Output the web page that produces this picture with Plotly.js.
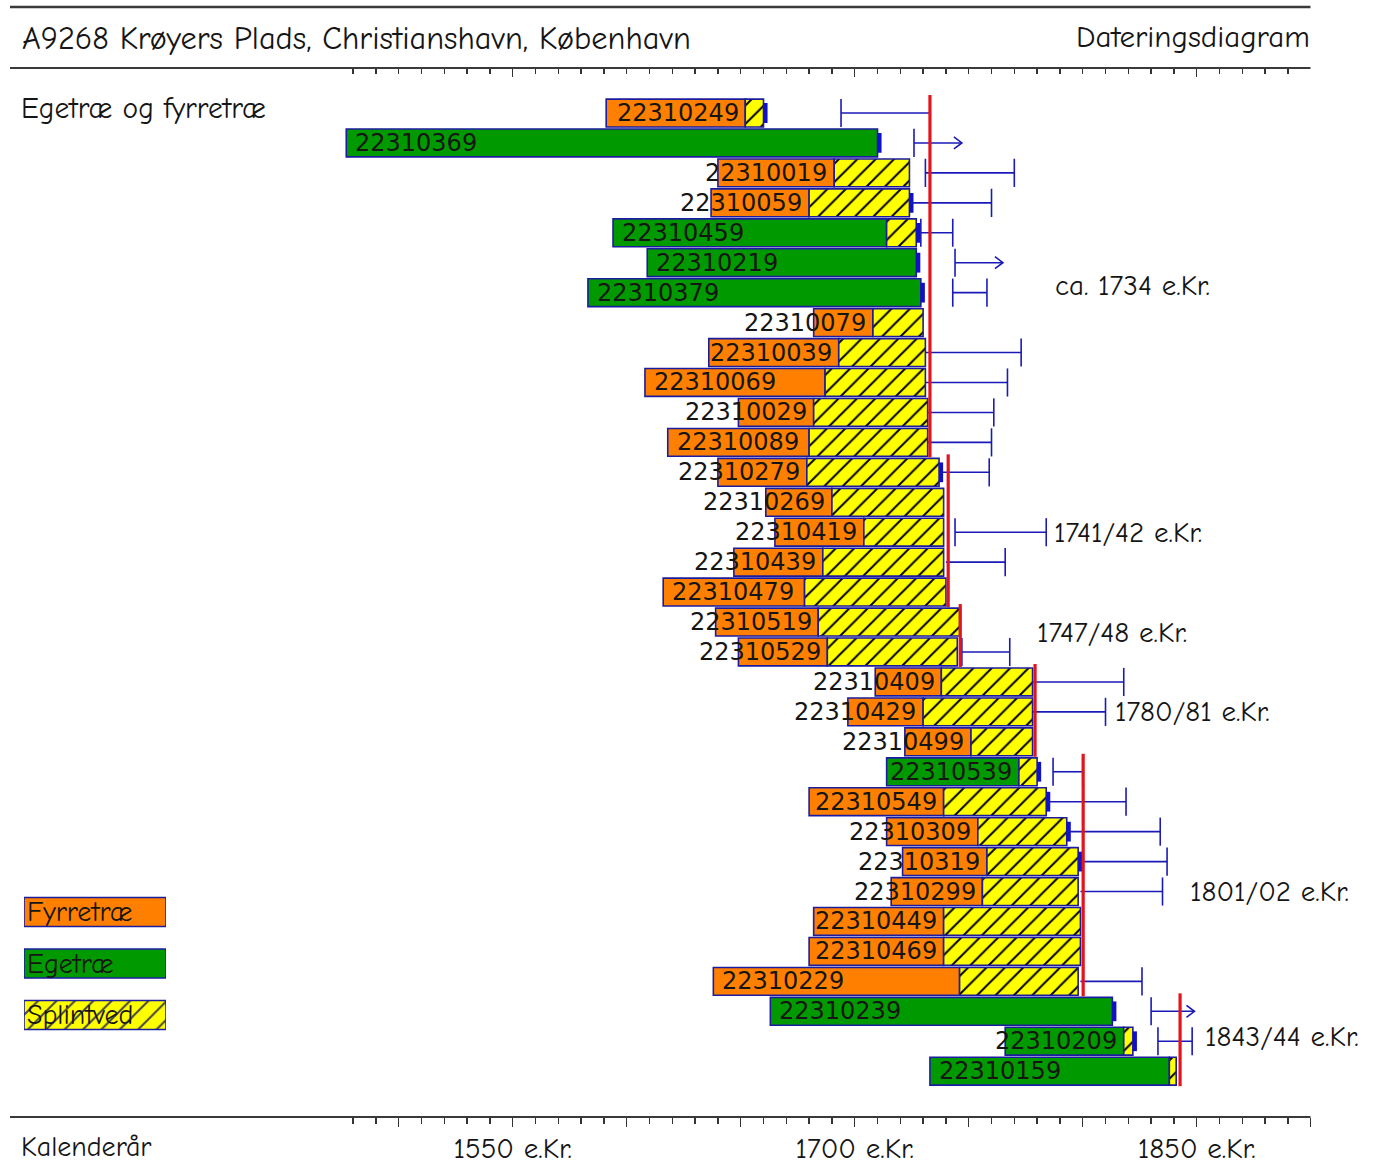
<!DOCTYPE html>
<html>
<head>
<meta charset="utf-8">
<script src="https://cdn.plot.ly/plotly-3.0.1.min.js"></script>
<style>
  html, body { margin: 0; padding: 0; background: #ffffff; }
  #chart { width: 1373px; height: 1173px; }
</style>
</head>
<body>
<div id="chart"></div>
<script>
// ---------------- DATA ----------------
const sampleIds = ['22310249','22310369','22310019','22310059','22310459','22310219','22310379',
  '22310079','22310039','22310069','22310029','22310089','22310279','22310269','22310419',
  '22310439','22310479','22310519','22310529','22310409','22310429','22310499','22310539',
  '22310549','22310309','22310319','22310299','22310449','22310469','22310229','22310239',
  '22310209','22310159'];
// F = fyrretræ (pine), E = egetræ (oak)
const species = ['F','E','F','F','E','E','E','F','F','F','F','F','F','F','F','F','F','F','F',
  'F','F','F','E','F','F','F','F','F','F','F','E','E','E'];
const startYear = [1591,1477,1640,1637,1594,1609,1583,1682,1636,1608,1649,1618,1640,1661,1665,
  1647,1616,1639,1649,1709,1697,1722,1714,1680,1714,1721,1716,1682,1680,1638,1663,1766,1733];
const heartEnd = [1652,1710,1691,1680,1714,1727,1729,1708,1693,1687,1682,1680,1679,1690,1704,
  1686,1678,1684,1688,1738,1730,1751,1772,1739,1754,1758,1756,1739,1739,1746,1813,1818,1838];
const sapEnd = [1660,1710,1724,1724,1727,1727,1729,1730,1731,1731,1732,1732,1737,1739,1739,
  1739,1740,1746,1745,1778,1778,1778,1780,1784,1793,1798,1798,1799,1799,1798,1813,1822,1841];
const waneyEdge = [1,1,0,1,1,1,1,0,0,0,0,0,1,0,0,0,0,0,0,0,0,0,1,1,1,1,0,0,0,0,1,1,0];
const fellFrom = [1694,1726,1731,1724,1729,1744,1743,null,1731,1731,1732,1732,1738,null,1744,
  1740,null,null,1747,1778,1778,null,1787,1785,1794,1798,1799,null,null,1799,1830,1833,null];
const fellTo = [1733,1747,1770,1760,1743,1765,1758,null,1773,1767,1761,1760,1759,null,1784,
  1766,null,null,1768,1818,1810,null,1800,1819,1834,1837,1835,null,null,1826,1849,1848,null];
const fellOpen = [0,1,0,0,0,1,0,0,0,0,0,0,0,0,0,0,0,0,0,0,0,0,0,0,0,0,0,0,0,0,1,0,0];

const groupDates = [1733, 1741, 1746.3, 1779.1, 1800.2, 1842.7];
const groupFirstRow = [0, 12, 17, 19, 22, 30];
const groupLastRow = [11, 16, 18, 21, 29, 32];
const groupLabels = ['ca. 1734 e.Kr.', '1741/42 e.Kr.', '1747/48 e.Kr.', '1780/81 e.Kr.',
  '1801/02 e.Kr.', '1843/44 e.Kr.'];

const legendNames = ['Fyrretræ', 'Egetræ', 'Splintved'];
const axisLabelYears = [1550, 1700, 1850];
const axisLabelText = ['1550 e.Kr.', '1700 e.Kr.', '1850 e.Kr.'];

const titleLeft = 'A9268 Krøyers Plads, Christianshavn, København';
const titleRight = 'Dateringsdiagram';
const subTitle = 'Egetræ og fyrretræ';
const axisName = 'Kalenderår';

// ---------------- STYLE / LAYOUT ----------------
const W = 1373, H = 1173;
const px = v => v / W;
const py = v => 1 - v / H;
const COL_PINE = '#ff8000', COL_OAK = '#009a00', COL_SAP = '#ffff00';
const COL_EDGE = '#1c1ca0', COL_ERR = '#1a1ab8', COL_RED = '#e3141c';
const TXT = '#151515';
const comic = '"Comic Sans MS", "Comic Neue", "DejaVu Sans", sans-serif';
const numFont = '"DejaVu Sans", Verdana, sans-serif';
const HATCH = { shape: '/', fillmode: 'overlay', fgcolor: '#000000', fgopacity: 1, size: 13, solidity: 0.15 };

// placement of group labels (layout, not data)
const groupLabelPos = [[1787, 5.75], [1786.5, 14.0], [1779, 17.35], [1813.3, 20.0], [1846.2, 26.0], [1852.8, 30.85]];

const rows = sampleIds.map((_, i) => i);
const speciesColor = species.map(s => s === 'F' ? COL_PINE : COL_OAK);

const traces = [];

// heartwood
traces.push({
  type: 'bar', orientation: 'h', y: rows,
  x: rows.map(i => heartEnd[i] - startYear[i]), base: startYear,
  width: 0.93,
  marker: { color: speciesColor, line: { color: COL_EDGE, width: 1.6 } },
  hoverinfo: 'skip', showlegend: false
});
// sapwood
const sapRows = rows.filter(i => sapEnd[i] > heartEnd[i]);
traces.push({
  type: 'bar', orientation: 'h', y: sapRows,
  x: sapRows.map(i => sapEnd[i] - heartEnd[i]), base: sapRows.map(i => heartEnd[i]),
  width: 0.93,
  marker: { color: COL_SAP, line: { color: COL_EDGE, width: 1.6 }, pattern: HATCH },
  hoverinfo: 'skip', showlegend: false
});

// waney edge marks
const wx = [], wy = [];
rows.forEach(i => { if (waneyEdge[i]) { wx.push(sapEnd[i] + 0.9, sapEnd[i] + 0.9, null); wy.push(i - 0.33, i + 0.33, null); } });
traces.push({ type: 'scatter', mode: 'lines', x: wx, y: wy, line: { color: '#1010c8', width: 4 }, hoverinfo: 'skip', showlegend: false });

// felling intervals
const ex = [], ey = [];
rows.forEach(i => {
  if (fellFrom[i] === null) return;
  ex.push(fellFrom[i], fellTo[i], null); ey.push(i, i, null);
  if (fellFrom[i] > sapEnd[i] + 1) { ex.push(fellFrom[i], fellFrom[i], null); ey.push(i - 0.47, i + 0.47, null); }
  if (fellOpen[i]) {
    ex.push(fellTo[i] - 3.5, fellTo[i], fellTo[i] - 3.5, null); ey.push(i - 0.2, i, i + 0.2, null);
  } else {
    ex.push(fellTo[i], fellTo[i], null); ey.push(i - 0.47, i + 0.47, null);
  }
});
traces.push({ type: 'scatter', mode: 'lines', x: ex, y: ey, line: { color: COL_ERR, width: 1.6 }, hoverinfo: 'skip', showlegend: false });

// group felling dates (red lines)
const rx = [], ry = [];
groupDates.forEach((d, g) => { rx.push(d, d, null); ry.push(groupFirstRow[g] - 0.6, groupLastRow[g] + 0.5, null); });
traces.push({ type: 'scatter', mode: 'lines', x: rx, y: ry, line: { color: COL_RED, width: 3.2 }, hoverinfo: 'skip', showlegend: false });

// empty trace to create top axis
traces.push({ type: 'scatter', mode: 'markers', x: [], y: [], xaxis: 'x2', yaxis: 'y', hoverinfo: 'skip', showlegend: false });

// legend boxes (own small axes)
traces.push({
  type: 'bar', orientation: 'h', y: [0, 1, 2], x: [1, 1, 1], base: 0, width: 0.563,
  xaxis: 'x3', yaxis: 'y3',
  marker: { color: [COL_PINE, COL_OAK, COL_SAP], line: { color: COL_EDGE, width: 1.6 },
    pattern: Object.assign({}, HATCH, { shape: ['', '', '/'] }) },
  hoverinfo: 'skip', showlegend: false
});

// annotations
const annotations = [];
const LABEL_W = 55.5, PAD_L = 3.5, PAD_R = 2.5;
rows.forEach(i => {
  const fitsInside = heartEnd[i] - startYear[i] >= LABEL_W + PAD_L + PAD_R;
  annotations.push({
    x: fitsInside ? startYear[i] + PAD_L : heartEnd[i] - PAD_R,
    xanchor: fitsInside ? 'left' : 'right',
    y: i, yanchor: 'middle', xref: 'x', yref: 'y', showarrow: false,
    text: sampleIds[i], font: { family: numFont, size: 24, color: TXT }, borderpad: 0
  });
});
groupLabels.forEach((t, g) => {
  annotations.push({ x: groupLabelPos[g][0], y: groupLabelPos[g][1], xref: 'x', yref: 'y',
    xanchor: 'left', yanchor: 'middle', showarrow: false, text: t,
    font: { family: comic, size: 29, color: TXT } });
});
legendNames.forEach((t, k) => {
  annotations.push({ x: 0, y: k, xref: 'x3', yref: 'y3', xanchor: 'left', yanchor: 'middle',
    xshift: 1, showarrow: false, text: t, font: { family: comic, size: 28, color: TXT } });
});
annotations.push({ x: px(20), y: py(38), xref: 'paper', yref: 'paper', xanchor: 'left', yanchor: 'middle',
  showarrow: false, text: titleLeft, font: { family: comic, size: 32.3, color: TXT } });
annotations.push({ x: px(1312), y: py(37), xref: 'paper', yref: 'paper', xanchor: 'right', yanchor: 'middle',
  showarrow: false, text: titleRight, font: { family: comic, size: 31, color: TXT } });
annotations.push({ x: px(19), y: py(108), xref: 'paper', yref: 'paper', xanchor: 'left', yanchor: 'middle',
  showarrow: false, text: subTitle, font: { family: comic, size: 29.5, color: TXT } });
annotations.push({ x: px(19), y: py(1147), xref: 'paper', yref: 'paper', xanchor: 'left', yanchor: 'middle',
  showarrow: false, text: axisName, font: { family: comic, size: 28, color: TXT } });

// ticks
const majorVals = [], majorText = [];
for (let y = 1500; y <= 1900; y += 50) {
  majorVals.push(y);
  const k = axisLabelYears.indexOf(y);
  majorText.push(k >= 0 ? axisLabelText[k] : '');
}
const xRange = [1475, 1900.3];
const xDomain = [px(341.7), px(1311.4)];
const tickCommon = {
  range: xRange, domain: xDomain, tickmode: 'array', tickvals: majorVals, ticktext: majorText,
  ticklen: 9, tickwidth: 1.5, tickcolor: '#333', showgrid: false, zeroline: false, showline: false,
  minor: { tick0: 1480, dtick: 10, ticklen: 6, tickwidth: 1.5, tickcolor: '#333', showgrid: false }
};

const lineY = [7, 68, 1117];
const shapes = lineY.map((v, k) => ({
  type: 'line', xref: 'paper', yref: 'paper', x0: px(10), x1: px(1310.5), y0: py(v), y1: py(v),
  line: { color: '#3a3a3a', width: k === 0 ? 2.5 : 2.2 }
}));

const layout = {
  width: W, height: H, margin: { l: 0, r: 0, t: 0, b: 0, pad: 0 },
  paper_bgcolor: '#ffffff', plot_bgcolor: '#ffffff',
  barmode: 'overlay', showlegend: false, hovermode: false,
  xaxis: Object.assign({}, tickCommon, {
    anchor: 'y', side: 'bottom', ticks: 'outside', ticklabelstandoff: -4,
    tickfont: { family: comic, size: 29, color: TXT },
    minor: Object.assign({}, tickCommon.minor, { ticks: 'outside' })
  }),
  xaxis2: Object.assign({}, tickCommon, {
    overlaying: 'x', matches: 'x', anchor: 'y', side: 'top', ticks: 'inside', showticklabels: false,
    minor: Object.assign({}, tickCommon.minor, { ticks: 'inside' })
  }),
  yaxis: { domain: [py(1117), py(68)], range: [33.53, -1.503], visible: false, fixedrange: true },
  xaxis3: { domain: [px(24), px(166)], range: [0, 1], visible: false, anchor: 'y3' },
  yaxis3: { domain: [py(1040.75), py(886.25)], range: [2.5, -0.5], visible: false, anchor: 'x3' },
  annotations: annotations, shapes: shapes,
  font: { family: comic, color: TXT }
};

Plotly.newPlot('chart', traces, layout, { staticPlot: true, displayModeBar: false });
</script>
</body>
</html>
